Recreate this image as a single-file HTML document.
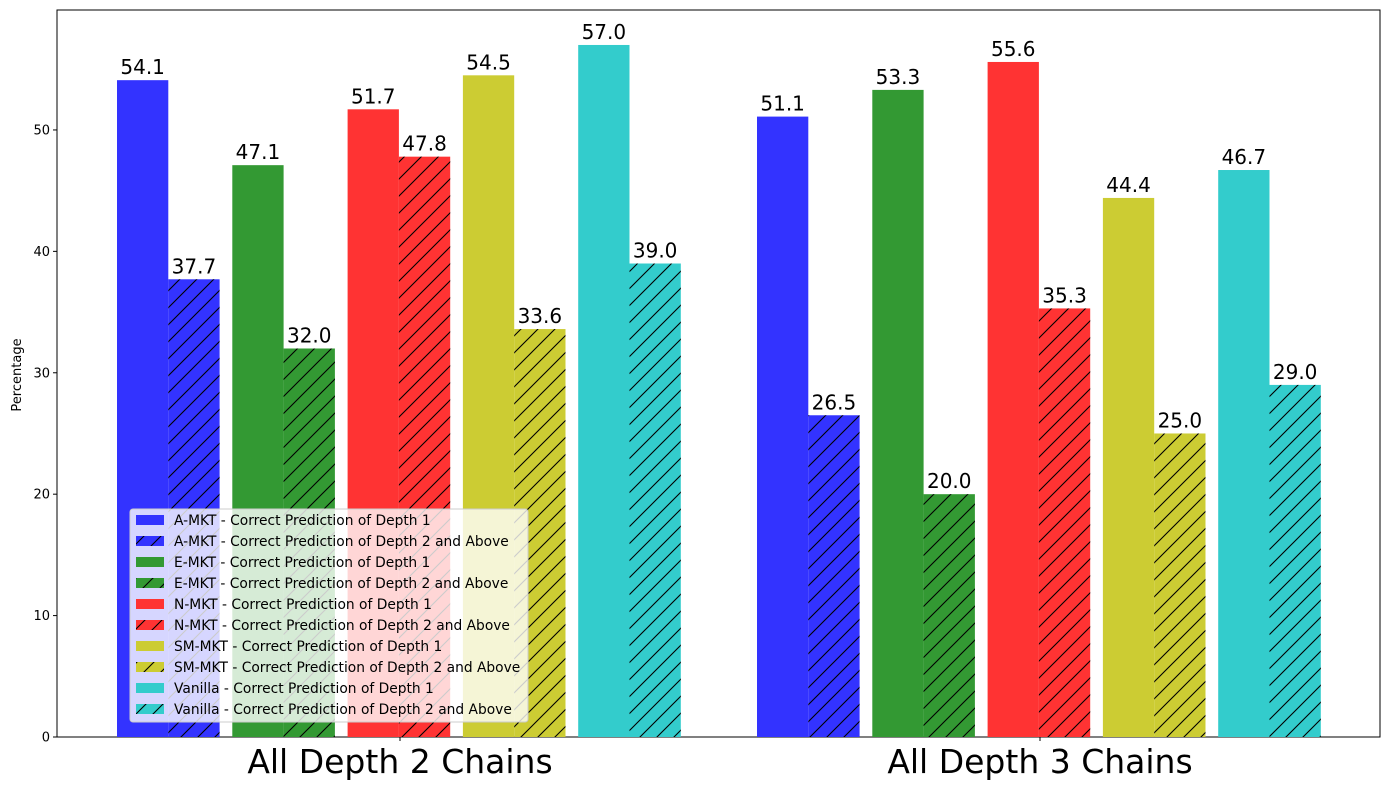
<!DOCTYPE html>
<html><head><meta charset="utf-8"><style>
body{margin:0;background:#fff;font-family:"Liberation Sans","DejaVu Sans",sans-serif;}
svg text{font-family:"DejaVu Sans","Liberation Sans",sans-serif;}
</style></head><body>
<svg id="chart" width="1389" height="790" xmlns="http://www.w3.org/2000/svg">
<defs>
<pattern id="hatch" patternUnits="userSpaceOnUse" width="17" height="17">
<path d="M-4,4 L4,-4 M0,17 L17,0 M13,21 L21,13" stroke="#000" stroke-width="1.1"/>
</pattern>
</defs>
<g id="plot"></g>
</svg>
<script>
const categories = ["All Depth 2 Chains", "All Depth 3 Chains"];
const models = ["A-MKT", "E-MKT", "N-MKT", "SM-MKT", "Vanilla"];
const depth1 = [[54.1, 47.1, 51.7, 54.5, 57.0], [51.1, 53.3, 55.6, 44.4, 46.7]];
const depth2 = [[37.7, 32.0, 47.8, 33.6, 39.0], [26.5, 20.0, 35.3, 25.0, 29.0]];
const yTicks = [0, 10, 20, 30, 40, 50];
const colors = ["#3333ff", "#339933", "#ff3333", "#cccc33", "#33cccc"];

const NS = "http://www.w3.org/2000/svg";
const g = document.getElementById("plot");
const L = 57, R = 1380, T = 10, B = 737, yMax = 59.88;
const y = v => B - v / yMax * (B - T);
const groupCenter = [400, 1040];
const bw = 51.3, pairStep = 115.3;
const barX = (gi, mi, k) => groupCenter[gi] - 2.5 * pairStep + 5.25 + mi * pairStep + k * bw;
function el(tag, attrs, parent) {
  const e = document.createElementNS(NS, tag);
  for (const k in attrs) e.setAttribute(k, attrs[k]);
  (parent || g).appendChild(e);
  return e;
}
const frame = el("rect", {x: L, y: T, width: R - L, height: B - T, fill: "none", stroke: "#000", "stroke-width": 1});


yTicks.forEach(t => {
  const ln = el("line", {x1: L - 4, x2: L, y1: y(t), y2: y(t), stroke: "#000"});
  
  
  const tx = el("text", {x: L - 7, y: y(t) + 4.5, "text-anchor": "end", "font-size": 13});
  tx.textContent = t;
  
  
});
const yt = el("text", {x: 21, y: 375, "text-anchor": "middle", "font-size": 13, transform: "rotate(-90 21 375)"});
yt.textContent = "Percentage";


categories.forEach((c, gi) => {
  models.forEach((m, mi) => {
    [depth1[gi][mi], depth2[gi][mi]].forEach((v, k) => {
      const x = barX(gi, mi, k);
      const r = el("rect", {x: x, y: y(v), width: bw, height: B - y(v), fill: colors[mi]});
      
      
      if (k === 1) {
        const h = el("rect", {x: x, y: y(v), width: bw, height: B - y(v), fill: "url(#hatch)"});
        
        
      }
      const lb = el("text", {x: x + bw / 2, y: y(v) - 6, "text-anchor": "middle", "font-size": 20});
      lb.textContent = v.toFixed(1);
      
      
    });
  });
  const tk = el("line", {x1: groupCenter[gi], x2: groupCenter[gi], y1: B, y2: B + 4, stroke: "#000"});
  
  
  const ct = el("text", {x: groupCenter[gi], y: 773, "text-anchor": "middle", "font-size": 33});
  ct.textContent = c;
  
  
});
const lg = el("g", {});


el("rect", {x: 130, y: 509, width: 398, height: 213, rx: 3, fill: "rgba(255,255,255,0.8)", stroke: "#ccc"}, lg);
models.forEach((m, mi) => {
  ["Correct Prediction of Depth 1", "Correct Prediction of Depth 2 and Above"].forEach((d, k) => {
    const i = mi * 2 + k;
    const yy = 515 + i * 21;
    const p = el("rect", {x: 136, y: yy, width: 28, height: 10, fill: colors[mi]}, lg);
    
    
    if (k === 1) el("rect", {x: 136, y: yy, width: 28, height: 10, fill: "url(#hatch)"}, lg);
    const t = el("text", {x: 174, y: yy + 10, "font-size": 13.8}, lg);
    t.textContent = m + " - " + d;
    
    
  });
});
</script>
</body></html>
